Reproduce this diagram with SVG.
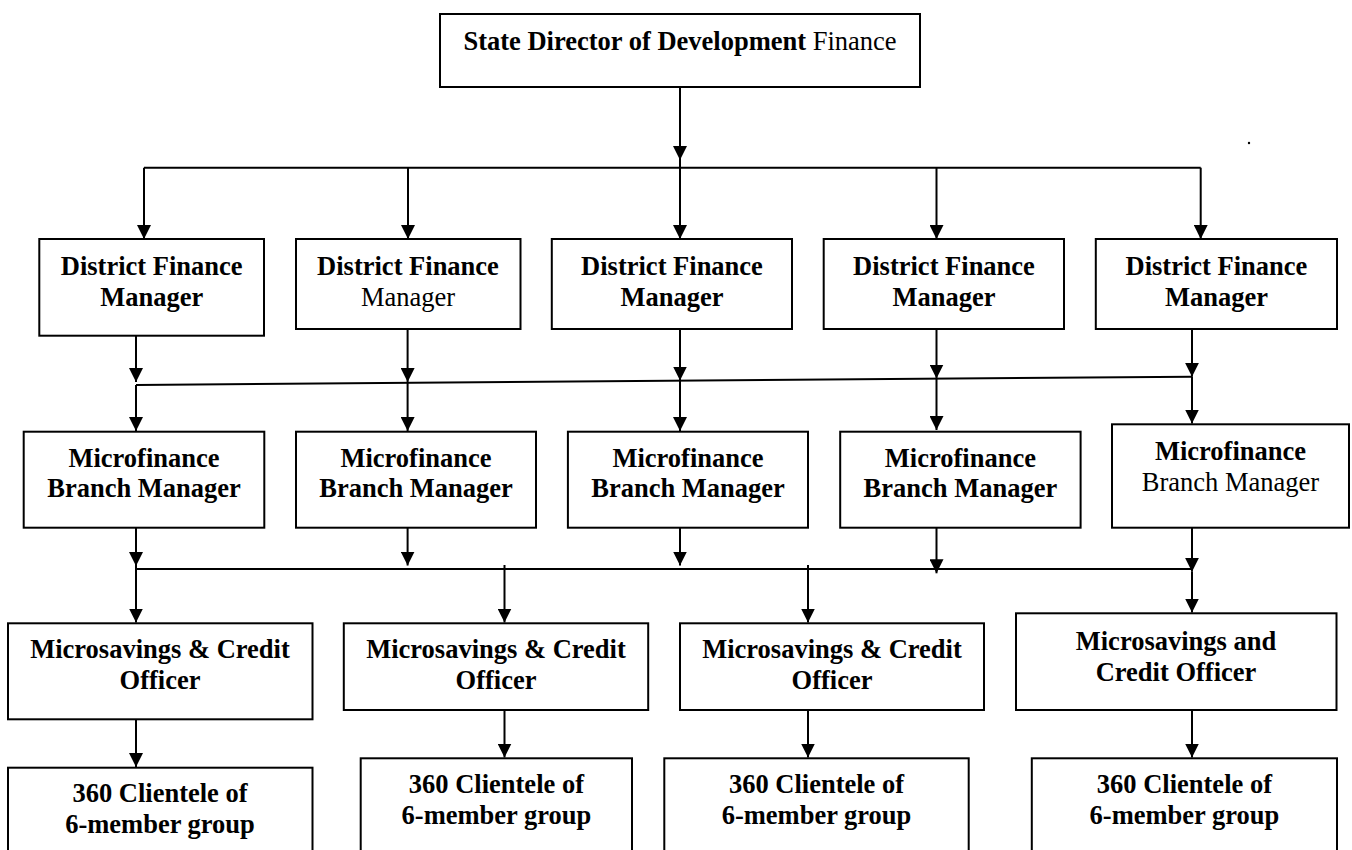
<svg xmlns="http://www.w3.org/2000/svg" width="1352" height="850" viewBox="0 0 1352 850">
  <defs>
    <marker id="ah" viewBox="0 0 14 14" markerWidth="14" markerHeight="14" refX="14" refY="7" orient="auto" markerUnits="userSpaceOnUse">
      <path d="M0,0 L14,7 L0,14 z" fill="#000"/>
    </marker>
  </defs>
  <style>
    .box { fill: #fff; stroke: #000; stroke-width: 2; }
    .t { font-family: 'Liberation Serif', 'Times New Roman', Times, 'DejaVu Serif', serif; font-size: 26.5px; text-anchor: middle; fill: #000; }
    .b { font-weight: bold; }
    .c { stroke: #000; stroke-width: 2; fill: none; }
    .a { marker-end: url(#ah); }
  </style>
  <rect width="1352" height="850" fill="#fff"/>

  <!-- connectors -->
  <g id="connectors">
    <!-- director to district managers -->
    <line class="c a" x1="680" y1="87" x2="680" y2="160"/>
    <line class="c" x1="144" y1="167.7" x2="1200.7" y2="167.7"/>
    <line class="c a" x1="144" y1="167.7" x2="144" y2="239"/>
    <line class="c a" x1="408" y1="167.7" x2="408" y2="239"/>
    <line class="c a" x1="680" y1="160" x2="680" y2="239"/>
    <line class="c a" x1="936.5" y1="167.7" x2="936.5" y2="239"/>
    <line class="c a" x1="1200.7" y1="167.7" x2="1200.7" y2="239"/>

    <!-- district managers to branch managers -->
    <line class="c" x1="136" y1="385" x2="1192" y2="376.7"/>
    <line class="c a" x1="136" y1="335.7" x2="136" y2="382"/>
    <line class="c a" x1="136" y1="385" x2="136" y2="431"/>
    <line class="c a" x1="407.6" y1="329" x2="407.6" y2="382"/>
    <line class="c a" x1="407.6" y1="382" x2="407.6" y2="431"/>
    <line class="c a" x1="680" y1="329" x2="680" y2="380.5"/>
    <line class="c a" x1="680" y1="380.5" x2="680" y2="431"/>
    <line class="c a" x1="936.5" y1="329" x2="936.5" y2="378.5"/>
    <line class="c a" x1="936.5" y1="378.5" x2="936.5" y2="430"/>
    <line class="c a" x1="1192" y1="329" x2="1192" y2="376.7"/>
    <line class="c a" x1="1192" y1="376.7" x2="1192" y2="423.5"/>

    <!-- branch managers to officers -->
    <line class="c" x1="136" y1="569" x2="1192" y2="569"/>
    <line class="c a" x1="136" y1="527.7" x2="136" y2="566"/>
    <line class="c a" x1="136" y1="566" x2="136" y2="622.5"/>
    <line class="c a" x1="407.6" y1="527.7" x2="407.6" y2="565.5"/>
    <line class="c a" x1="680" y1="527.7" x2="680" y2="565.5"/>
    <line class="c a" x1="936.5" y1="527.7" x2="936.5" y2="573.3"/>
    <line class="c a" x1="1192" y1="527.7" x2="1192" y2="571.7"/>
    <line class="c a" x1="1192" y1="571.7" x2="1192" y2="612.5"/>
    <line class="c a" x1="504.5" y1="565" x2="504.5" y2="622.5"/>
    <line class="c a" x1="808" y1="565" x2="808" y2="622.5"/>

    <!-- officers to client groups -->
    <line class="c a" x1="136" y1="719.3" x2="136" y2="767"/>
    <line class="c a" x1="504.5" y1="710" x2="504.5" y2="757.5"/>
    <line class="c a" x1="808" y1="710" x2="808" y2="757.5"/>
    <line class="c a" x1="1192" y1="710" x2="1192" y2="757.5"/>
  </g>

  <!-- top level -->
  <g id="state-director">
    <rect class="box" x="440" y="14" width="480" height="73"/>
    <text class="t" x="680" y="50"><tspan class="b">State Director of Development</tspan> Finance</text>
  </g>

  <!-- district finance managers -->
  <g id="dfm-1">
    <rect class="box" x="39.3" y="239" width="224.7" height="96.7"/>
    <text class="t b" x="151.7" y="275">District Finance</text>
    <text class="t b" x="151.7" y="305.7">Manager</text>
  </g>
  <g id="dfm-2">
    <rect class="box" x="296" y="239" width="224.5" height="90"/>
    <text class="t b" x="408" y="275">District Finance</text>
    <text class="t" x="408" y="305.7">Manager</text>
  </g>
  <g id="dfm-3">
    <rect class="box" x="551.8" y="239" width="240.2" height="90"/>
    <text class="t b" x="672" y="275">District Finance</text>
    <text class="t b" x="672" y="305.7">Manager</text>
  </g>
  <g id="dfm-4">
    <rect class="box" x="823.7" y="239" width="240.3" height="90"/>
    <text class="t b" x="944" y="275">District Finance</text>
    <text class="t b" x="944" y="305.7">Manager</text>
  </g>
  <g id="dfm-5">
    <rect class="box" x="1095.8" y="239" width="241.2" height="90"/>
    <text class="t b" x="1216.4" y="275">District Finance</text>
    <text class="t b" x="1216.4" y="305.7">Manager</text>
  </g>

  <!-- microfinance branch managers -->
  <g id="mbm-1">
    <rect class="box" x="23.7" y="431.7" width="240.6" height="96"/>
    <text class="t b" x="144" y="466.7">Microfinance</text>
    <text class="t b" x="144" y="497">Branch Manager</text>
  </g>
  <g id="mbm-2">
    <rect class="box" x="296" y="431.7" width="240" height="96"/>
    <text class="t b" x="416" y="466.7">Microfinance</text>
    <text class="t b" x="416" y="497">Branch Manager</text>
  </g>
  <g id="mbm-3">
    <rect class="box" x="567.9" y="431.7" width="240.1" height="96"/>
    <text class="t b" x="688" y="466.7">Microfinance</text>
    <text class="t b" x="688" y="497">Branch Manager</text>
  </g>
  <g id="mbm-4">
    <rect class="box" x="840.2" y="431.7" width="240.4" height="96"/>
    <text class="t b" x="960.4" y="466.7">Microfinance</text>
    <text class="t b" x="960.4" y="497">Branch Manager</text>
  </g>
  <g id="mbm-5">
    <rect class="box" x="1112" y="424.3" width="237" height="103.4"/>
    <text class="t b" x="1230.5" y="460">Microfinance</text>
    <text class="t" x="1230.5" y="490.7">Branch Manager</text>
  </g>

  <!-- microsavings and credit officers -->
  <g id="mco-1">
    <rect class="box" x="8" y="623.3" width="304.5" height="96"/>
    <text class="t b" x="160" y="658.3">Microsavings &amp; Credit</text>
    <text class="t b" x="160" y="689">Officer</text>
  </g>
  <g id="mco-2">
    <rect class="box" x="343.8" y="623.3" width="304.4" height="86.7"/>
    <text class="t b" x="496" y="658.3">Microsavings &amp; Credit</text>
    <text class="t b" x="496" y="689">Officer</text>
  </g>
  <g id="mco-3">
    <rect class="box" x="680" y="623.3" width="304" height="86.7"/>
    <text class="t b" x="832" y="658.3">Microsavings &amp; Credit</text>
    <text class="t b" x="832" y="689">Officer</text>
  </g>
  <g id="mco-4">
    <rect class="box" x="1016" y="613.3" width="320.5" height="96.7"/>
    <text class="t b" x="1176" y="649.7">Microsavings and</text>
    <text class="t b" x="1176" y="680.7">Credit Officer</text>
  </g>

  <!-- client groups -->
  <g id="clients-1">
    <rect class="box" x="8" y="767.7" width="304.5" height="100"/>
    <text class="t b" x="160" y="802.3">360 Clientele of</text>
    <text class="t b" x="160" y="833.3">6-member group</text>
  </g>
  <g id="clients-2">
    <rect class="box" x="360.7" y="758.3" width="271.3" height="110"/>
    <text class="t b" x="496.4" y="793.3">360 Clientele of</text>
    <text class="t b" x="496.4" y="824.3">6-member group</text>
  </g>
  <g id="clients-3">
    <rect class="box" x="664.3" y="758.3" width="304.4" height="110"/>
    <text class="t b" x="816.5" y="793.3">360 Clientele of</text>
    <text class="t b" x="816.5" y="824.3">6-member group</text>
  </g>
  <g id="clients-4">
    <rect class="box" x="1031.8" y="758.3" width="305.2" height="110"/>
    <text class="t b" x="1184.4" y="793.3">360 Clientele of</text>
    <text class="t b" x="1184.4" y="824.3">6-member group</text>
  </g>

  <!-- stray full stop at upper right -->
  <circle cx="1249" cy="143" r="1.2" fill="#000"/>
</svg>
